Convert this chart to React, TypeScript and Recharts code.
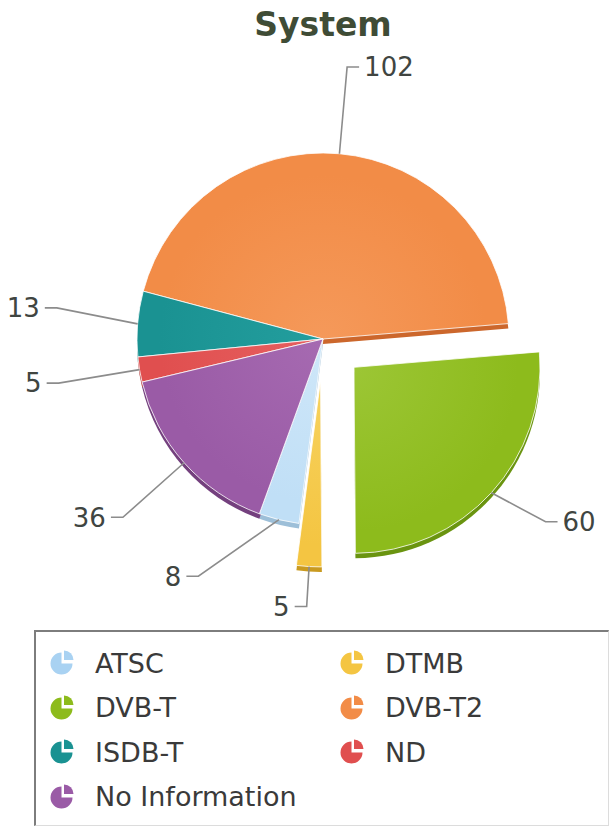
import React from 'react';
import { PieChart, Pie, Cell, Legend } from 'recharts';

const categories = ['ATSC', 'DTMB', 'DVB-T', 'DVB-T2', 'ISDB-T', 'ND', 'No Information'];
const counts = [8, 5, 60, 102, 13, 5, 36];
const colors = ['#c0dff6', '#f4c542', '#8dbb1c', '#f28c47', '#1a9292', '#e04f4f', '#9a5ba6'];
const iconColors = ['#a9d2f2', '#f4c542', '#8dbb1c', '#f28c47', '#1a9292', '#e04f4f', '#9a5ba6'];
const darkColors = ['#9dbfd8', '#c99a20', '#6a9410', '#cc672c', '#0f6d6d', '#b33636', '#74407e'];
const lightColors = ['#cfe7f9', '#f7d25e', '#9cc635', '#f5995a', '#239e9e', '#e66060', '#a66ab1'];
const explodedNames = ['DTMB', 'DVB-T'];

const data = categories.map((name, i) => ({ name, value: counts[i] }));

const CX = 323;
const CY = 339;
const R = 186;
const START = 250;
const EXPLODE = 42;
const DEPTH = 5;
const LABEL_DIST = 82;
const RADIAN = Math.PI / 180;

const labelNudge: Record<string, { angle?: number; dr?: number }> = {
  ATSC: { angle: -14 },
  'DVB-T': { angle: 3, dr: 20 },
  'ISDB-T': { angle: -2 },
  'DVB-T2': { dr: 5 },
};

const total = counts.reduce((a, b) => a + b, 0);
const midAngles: number[] = (() => {
  let acc = 0;
  return counts.map((v) => {
    const a0 = START + (acc / total) * 360;
    acc += v;
    return a0 + (v / total) * 180;
  });
})();

const dirX = (a: number) => Math.cos(-a * RADIAN);
const dirY = (a: number) => Math.sin(-a * RADIAN);

const explodedCenter = (i: number) => {
  const off = explodedNames.includes(categories[i]) ? EXPLODE : 0;
  return { x: CX + off * dirX(midAngles[i]), y: CY + off * dirY(midAngles[i]) };
};

const renderLabel = (p: any) => {
  const { cx, cy, midAngle, outerRadius, index, value } = p;
  const name = categories[index];
  const n = labelNudge[name] || {};
  const off = explodedNames.includes(name) ? EXPLODE : 0;
  const ecx = cx + off * dirX(midAngle);
  const ecy = cy + off * dirY(midAngle);
  const sx = ecx + outerRadius * dirX(midAngle);
  const sy = ecy + outerRadius * dirY(midAngle);
  const ang = midAngle + (n.angle || 0);
  const lr = outerRadius + LABEL_DIST + (n.dr || 0);
  const ex = cx + lr * dirX(ang);
  const ey = cy + lr * dirY(ang);
  const right = dirX(ang) >= 0;
  const hx = ex + (right ? 12 : -12);
  return (
    <g key={`lbl-${index}`}>
      <path d={`M${sx},${sy}L${ex},${ey}L${hx},${ey}`} stroke="#8c8c8c" strokeWidth={1.6} fill="none" />
      <text
        x={hx + (right ? 5 : -5)}
        y={ey}
        dy="0.36em"
        textAnchor={right ? 'start' : 'end'}
        fill="#404541"
        fontSize={26}
        fontFamily="'DejaVu Sans', Verdana, sans-serif"
      >
        {value}
      </text>
    </g>
  );
};

const PieIcon = ({ color }: { color: string }) => (
  <svg width={26} height={26} viewBox="0 0 26 26" style={{ display: 'block' }}>
    <path d="M11.5,2.5 A11,11 0 1,0 22.5,13.5 L11.5,13.5 Z" fill={color} />
    <path d="M14,0.5 A9.5,9.5 0 0,1 23.5,10 L14,10 Z" fill={color} />
  </svg>
);

const renderLegend = () => (
  <div
    style={{
      boxSizing: 'border-box',
      width: 575,
      height: 196,
      borderTop: '2px solid #7d7d7d',
      borderLeft: '2px solid #7d7d7d',
      borderRight: '1px solid #dcdcdc',
      borderBottom: '1px solid #dcdcdc',
      padding: '9px 0 0 14px',
      display: 'grid',
      gridTemplateColumns: '290px 270px',
      gridAutoRows: '44.5px',
      fontFamily: "'DejaVu Sans', Verdana, sans-serif",
      fontSize: 27,
      color: '#3a3a3a',
      background: '#fff',
    }}
  >
    {categories.map((c, i) => (
      <div key={c} style={{ display: 'flex', alignItems: 'center' }}>
        <PieIcon color={iconColors[i]} />
        <span style={{ marginLeft: 19, whiteSpace: 'nowrap' }}>{c}</span>
      </div>
    ))}
  </div>
);

const gradId = (i: number, ex: boolean) => `grad-${i}-${ex ? 'x' : 'm'}`;

export default function App() {
  return (
    <div style={{ position: 'absolute', left: 0, top: 0, width: 609, height: 826, background: '#fff' }}>
      <div
        style={{
          position: 'absolute',
          left: 0,
          top: 5,
          width: 646,
          textAlign: 'center',
          fontFamily: "'DejaVu Sans', Verdana, sans-serif",
          fontWeight: 'bold',
          fontSize: 33,
          color: '#3f4c36',
          zIndex: 2,
        }}
      >
        System
      </div>
      <PieChart width={609} height={826} margin={{ top: 0, right: 0, bottom: 0, left: 0 }}>
        <defs>
          {categories.map((c, i) => {
            const ec = explodedCenter(i);
            const ex = explodedNames.includes(c);
            return (
              <radialGradient
                key={c}
                id={gradId(i, ex)}
                gradientUnits="userSpaceOnUse"
                cx={ec.x}
                cy={ec.y}
                r={R}
              >
                <stop offset="0%" stopColor={lightColors[i]} />
                <stop offset="88%" stopColor={colors[i]} />
                <stop offset="100%" stopColor={colors[i]} />
              </radialGradient>
            );
          })}
        </defs>
        <Pie
          data={data}
          dataKey="value"
          nameKey="name"
          cx={CX}
          cy={CY + DEPTH}
          outerRadius={R}
          startAngle={START}
          endAngle={START + 360}
          isAnimationActive={false}
          labelLine={false}
          legendType="none"
        >
          {categories.map((c, i) => (
            <Cell
              key={c}
              fill={explodedNames.includes(c) ? 'none' : darkColors[i]}
              stroke="none"
            />
          ))}
        </Pie>
        {explodedNames.map((en) => {
          const idx = categories.indexOf(en);
          const ec = explodedCenter(idx);
          return (
            <Pie
              key={`depth-${en}`}
              data={data}
              dataKey="value"
              nameKey="name"
              cx={ec.x}
              cy={ec.y + DEPTH}
              outerRadius={R}
              startAngle={START}
              endAngle={START + 360}
              isAnimationActive={false}
              labelLine={false}
              legendType="none"
            >
              {categories.map((c, i) => (
                <Cell key={c} fill={i === idx ? darkColors[i] : 'none'} stroke="none" />
              ))}
            </Pie>
          );
        })}
        <Pie
          data={data}
          dataKey="value"
          nameKey="name"
          cx={CX}
          cy={CY}
          outerRadius={R}
          startAngle={START}
          endAngle={START + 360}
          isAnimationActive={false}
          labelLine={false}
          label={renderLabel}
        >
          {categories.map((c, i) => {
            const ex = explodedNames.includes(c);
            return (
              <Cell
                key={c}
                fill={ex ? 'none' : `url(#${gradId(i, false)})`}
                stroke={ex ? 'none' : '#ffffff'}
                strokeWidth={0.8}
              />
            );
          })}
        </Pie>
        {explodedNames.map((en) => {
          const idx = categories.indexOf(en);
          const ec = explodedCenter(idx);
          return (
            <Pie
              key={`ex-${en}`}
              data={data}
              dataKey="value"
              nameKey="name"
              cx={ec.x}
              cy={ec.y}
              outerRadius={R}
              startAngle={START}
              endAngle={START + 360}
              isAnimationActive={false}
              labelLine={false}
              legendType="none"
            >
              {categories.map((c, i) => (
                <Cell
                  key={c}
                  fill={i === idx ? `url(#${gradId(i, true)})` : 'none'}
                  stroke={i === idx ? '#ffffff' : 'none'}
                  strokeWidth={0.8}
                />
              ))}
            </Pie>
          );
        })}
        <Legend
          content={renderLegend}
          wrapperStyle={{ position: 'absolute', left: 34, top: 630, width: 575, height: 196 }}
        />
      </PieChart>
    </div>
  );
}
